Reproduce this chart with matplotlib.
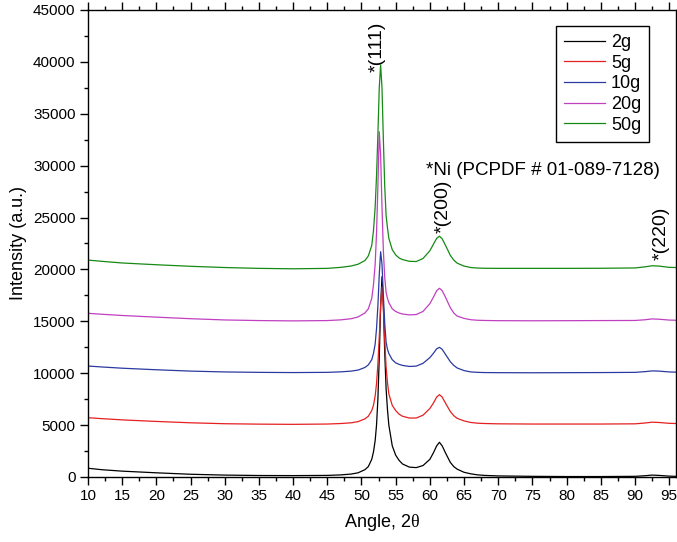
import matplotlib
matplotlib.use("Agg")
import matplotlib.pyplot as plt
from matplotlib.ticker import MultipleLocator

plt.rcParams['font.family'] = ['Liberation Sans', 'DejaVu Sans']
plt.rcParams['mathtext.fontset'] = 'custom'
plt.rcParams['mathtext.rm'] = 'Liberation Serif'
plt.rcParams['mathtext.it'] = 'Liberation Serif'

# 2theta sampling points
angle = [10, 12, 15, 20, 25, 30, 35, 40, 45, 47, 48.5, 49.5, 50.5, 51, 51.5, 51.75,
         52, 52.2, 52.4, 52.6, 52.8, 53.0, 53.2, 53.4, 53.6, 53.8, 54, 54.5, 55,
         55.5, 56, 57, 58, 59, 60, 60.5, 61, 61.4, 61.8, 62.3, 63, 63.5, 64,
         65, 66, 67, 68, 70, 75, 80, 85, 90, 91.5, 92.5, 93.5, 95, 96]

i_2g = [840, 700, 560, 400, 260, 180, 140, 130, 150, 200, 280, 400, 700, 1000, 1700, 2400,
        3500, 5000, 7500, 11500, 16500, 19300, 16500, 12000, 8500, 6500, 5000, 3000, 2100,
        1600, 1250, 950, 900, 1100, 1700, 2300, 3000, 3340, 3000, 2300, 1400, 1000, 750,
        450, 300, 200, 150, 100, 60, 40, 40, 60, 120, 180, 150, 80, 60]

i_5g = [5710, 5620, 5500, 5350, 5220, 5130, 5090, 5070, 5100, 5150, 5220, 5330, 5600, 5850, 6400, 6900,
        7800, 9000, 10900, 13500, 16500, 18330, 16300, 13200, 10600, 9100, 8000, 6900, 6400,
        6050, 5850, 5680, 5680, 5950, 6600, 7100, 7700, 7930, 7700, 7100, 6300, 5900, 5650,
        5400, 5250, 5180, 5150, 5120, 5100, 5100, 5100, 5120, 5200, 5280, 5250, 5170, 5150]

i_10g = [10690, 10600, 10480, 10330, 10200, 10120, 10080, 10060, 10080, 10130, 10200, 10300, 10550, 10800, 11300, 11900,
         12800, 14300, 16500, 19500, 21700, 20500, 17500, 14800, 13000, 12300, 11900, 11300, 11000,
         10850, 10750, 10650, 10680, 10950, 11500, 11900, 12350, 12490, 12300, 11800, 11100, 10750, 10500,
         10250, 10120, 10080, 10060, 10050, 10040, 10050, 10060, 10080, 10150, 10220, 10200, 10120, 10100]

i_20g = [15770, 15680, 15560, 15400, 15250, 15130, 15070, 15040, 15070, 15140, 15250, 15420, 15800, 16200, 17200, 18500,
         20500, 23500, 28000, 33270, 31000, 26000, 21800, 19200, 17800, 17200, 16800, 16200, 15950,
         15800, 15700, 15620, 15650, 15950, 16700, 17300, 17950, 18180, 17950, 17300, 16300, 15800, 15500,
         15280, 15150, 15100, 15080, 15060, 15050, 15060, 15070, 15080, 15150, 15230, 15200, 15120, 15100]

i_50g = [20900, 20780, 20620, 20450, 20300, 20180, 20100, 20060, 20100, 20200, 20330, 20500, 20850, 21300, 22300, 23700,
         26000, 29000, 33000, 37500, 39700, 37500, 32500, 28000, 25200, 24000, 23000, 21900, 21400,
         21100, 20950, 20780, 20760, 21050, 21800, 22400, 23000, 23200, 22950, 22300, 21350, 20900, 20600,
         20320, 20180, 20130, 20110, 20100, 20100, 20100, 20110, 20140, 20250, 20350, 20320, 20200, 20180]

labels = ["2g", "5g", "10g", "20g", "50g"]
colors = ["black", "#e52020", "#2a3aa0", "#c040c0", "#158a15"]
series = [i_2g, i_5g, i_10g, i_20g, i_50g]

fig = plt.figure(figsize=(6.77, 5.42), dpi=100)
ax = fig.add_axes([0.130, 0.12, 0.8685, 0.8616])

for y, c, lab in zip(series, colors, labels):
    ax.plot(angle, y, color=c, lw=0.9, label=lab)

ax.set_xlim(10, 96)
ax.set_ylim(0, 45000)
ax.xaxis.set_major_locator(MultipleLocator(5))
ax.xaxis.set_minor_locator(MultipleLocator(2.5))
ax.yaxis.set_major_locator(MultipleLocator(5000))
ax.yaxis.set_minor_locator(MultipleLocator(2500))
ax.tick_params(which='both', direction='out', top=True, right=True, width=1)
ax.tick_params(which='major', length=5.5, labelsize=11)
ax.tick_params(which='minor', length=3)
for s in ax.spines.values():
    s.set_linewidth(1)

ax.set_xlabel(r'Angle, 2$\theta$', fontsize=13, labelpad=6)
ax.set_ylabel('Intensity (a.u.)', fontsize=13, labelpad=4)

# peak labels
ax.text(52.25, 39000, '*(111)', rotation=90, ha='center', va='bottom', fontsize=14)
ax.text(61.9, 23500, '*(200)', rotation=90, ha='center', va='bottom', fontsize=14)
ax.text(93.9, 20900, '*(220)', rotation=90, ha='center', va='bottom', fontsize=14)
ax.text(59.5, 29100, '*Ni (PCPDF # 01-089-7128)', ha='left', va='baseline', fontsize=13.5)

leg = ax.legend(loc='upper right', bbox_to_anchor=(0.9546, 0.9657), borderaxespad=0,
                fontsize=13, fancybox=False, edgecolor='black', framealpha=1,
                handlelength=2.3, handletextpad=0.3, labelspacing=0.2, borderpad=0.45)
leg.get_frame().set_linewidth(1)

fig.savefig('out.png', dpi=100)
